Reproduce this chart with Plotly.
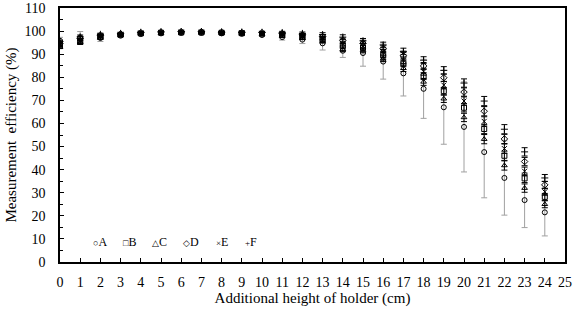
import plotly.graph_objects as go

heights = list(range(25))
A = [95.8, 97.3, 97.0, 98.0, 98.7, 99.0, 99.2, 99.2, 99.0, 98.8, 98.3, 97.4, 96.3, 94.7, 91.5, 90.5, 86.8, 81.7, 75.0, 67.0, 58.5, 47.6, 36.4, 26.8, 21.5]
A_err = [1.5, 2.5, 1.5, 0.6, 0.5, 0.4, 0.4, 0.4, 0.4, 0.5, 0.6, 1.3, 1.7, 2.9, 2.9, 5.7, 7.6, 9.8, 12.8, 16.0, 19.5, 19.8, 16.1, 11.9, 10.2]
B = [93.5, 95.5, 97.5, 98.4, 99.0, 99.3, 99.4, 99.4, 99.3, 99.1, 98.9, 98.3, 97.5, 96.4, 93.6, 92.8, 89.6, 86.0, 80.5, 74.0, 66.8, 57.6, 46.0, 36.2, 28.2]
C = [93.0, 95.0, 97.0, 98.2, 98.9, 99.1, 99.3, 99.3, 99.1, 98.9, 98.6, 97.9, 96.9, 95.6, 92.1, 91.6, 88.0, 83.9, 78.0, 70.7, 62.6, 53.2, 41.8, 32.0, 25.0]
D = [94.5, 96.8, 98.2, 98.8, 99.3, 99.6, 99.7, 99.7, 99.5, 99.4, 99.3, 99.0, 98.4, 97.7, 96.0, 94.7, 92.4, 89.3, 84.9, 79.8, 73.6, 65.3, 53.3, 43.5, 33.4]
E = [94.0, 96.0, 97.8, 98.6, 99.1, 99.4, 99.5, 99.5, 99.4, 99.2, 99.0, 98.6, 97.9, 97.0, 94.6, 93.6, 90.8, 87.4, 82.4, 76.6, 69.7, 60.9, 49.1, 39.3, 30.4]
F = [95.5, 97.5, 98.6, 99.0, 99.5, 99.7, 99.8, 99.8, 99.7, 99.6, 99.5, 99.4, 99.0, 98.5, 97.4, 95.8, 94.0, 91.2, 87.4, 83.0, 77.5, 69.7, 57.5, 47.7, 36.4]
small_err = [0.5, 0.8, 0.5, 0.3, 0.3, 0.2, 0.2, 0.2, 0.2, 0.3, 0.3, 0.5, 0.6, 0.8, 1.0, 1.0, 1.2, 1.4, 1.5, 1.6, 1.8, 2.0, 2.0, 1.8, 1.5]

series_names = ["A", "B", "C", "D", "E", "F"]
legend_glyphs = ["○", "□", "△", "◇", "×", "+"]
legend_x = [2.0, 3.45, 4.95, 6.5, 8.0, 9.45]
legend_y = 8.7

series = [
    (A, A_err, "circle-open", "#a0a0a0"),
    (B, small_err, "square-open", "#000000"),
    (C, small_err, "triangle-up-open", "#000000"),
    (D, small_err, "diamond-open", "#000000"),
    (E, small_err, "x-thin-open", "#000000"),
    (F, small_err, "cross-thin-open", "#000000"),
]

fig = go.Figure()
for name, (vals, err, sym, ecol) in zip(series_names, series):
    fig.add_trace(go.Scatter(
        x=heights, y=vals, mode="markers", name=name, showlegend=False,
        marker=dict(symbol=sym, size=5, color="black", line=dict(color="black", width=1)),
        error_y=dict(type="data", array=err, visible=True, color=ecol, thickness=1, width=3),
    ))

font = "Liberation Serif, Times New Roman, serif"
for name, g, lx in zip(series_names, legend_glyphs, legend_x):
    fig.add_annotation(x=lx, y=legend_y, xref="x", yref="y",
                       text='<span style="font-size:9px">' + g + '</span>' + name,
                       showarrow=False, font=dict(size=12, family=font, color="black"))

fig.update_layout(
    width=575, height=311,
    margin=dict(l=60, r=10, t=8, b=49),
    paper_bgcolor="white", plot_bgcolor="white",
    font=dict(family=font, size=14, color="black"),
    xaxis=dict(range=[0, 25], tickmode="linear", tick0=0, dtick=1,
               ticks="inside", ticklen=4, tickcolor="black", ticklabelstandoff=6,
               showline=True, linecolor="black", linewidth=1.5, mirror=True,
               showgrid=False, zeroline=False, automargin=False,
               title=dict(text="Additional height of holder (cm)", font=dict(size=15), standoff=4),
               tickfont=dict(size=14)),
    yaxis=dict(range=[0, 110], tickmode="linear", tick0=0, dtick=10,
               ticks="inside", ticklen=4, tickcolor="black", ticklabelstandoff=10,
               minor=dict(dtick=5, ticks="inside", ticklen=3, tickcolor="black"),
               showline=True, linecolor="black", linewidth=1.5, mirror=True,
               showgrid=False, zeroline=False, automargin=False,
               title=dict(text="Measurement  efficiency (%)", font=dict(size=15), standoff=4),
               tickfont=dict(size=14)),
)
fig.write_html("out.html", config={"displayModeBar": False},
               post_script="document.body.style.margin='0';")
